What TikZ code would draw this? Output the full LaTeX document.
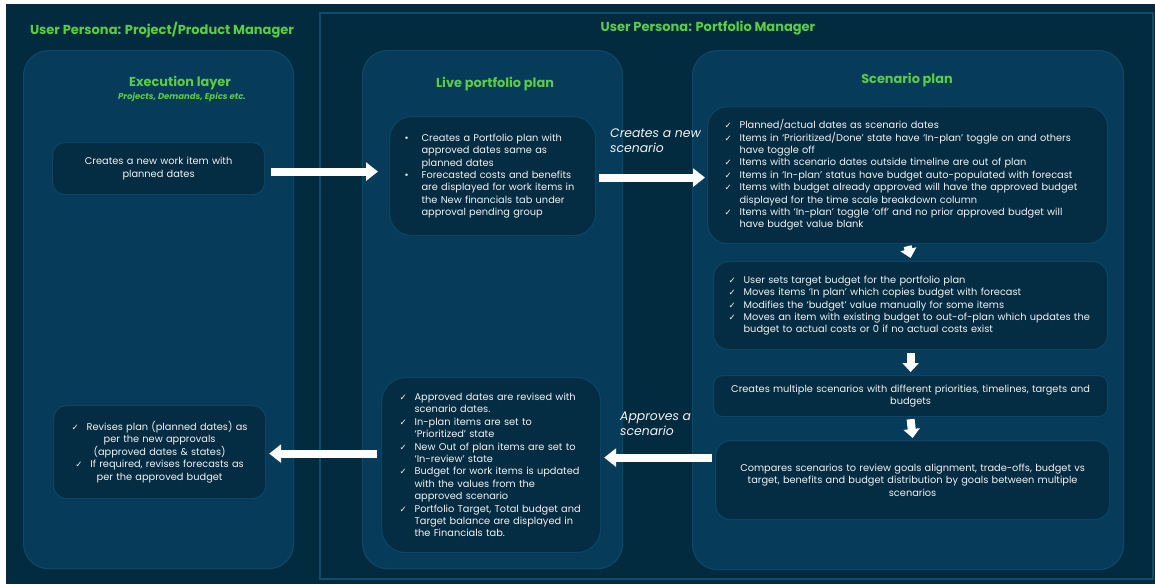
\documentclass[tikz,border=0pt]{standalone}
\usepackage{fontspec}
\setmainfont{Poppins}
\newfontfamily\symfont{DejaVu Sans}
\usetikzlibrary{arrows.meta,calc}
\definecolor{bgdark}{HTML}{032B40}
\definecolor{colfill}{HTML}{063B59}
\definecolor{coledge}{HTML}{0C4867}
\definecolor{boxfill}{HTML}{042C42}
\definecolor{boxedge}{HTML}{0B4464}
\definecolor{frameedge}{HTML}{0E4C6C}
\definecolor{titlegreen}{HTML}{5CCB45}
\definecolor{txt}{HTML}{F2F2F2}
\newcommand\ck{\makebox[15pt][l]{\symfont\fontsize{8.5}{9}\selectfont ✓}}
\newcommand\ind{\hspace*{15pt}}
\newcommand\bul{\makebox[17pt][l]{•}}
\newcommand\bind{\hspace*{17pt}}
\tikzset{
  col/.style={draw=coledge, fill=colfill, line width=1.2pt, rounded corners=25pt, anchor=north west, inner sep=0pt},
  ibox/.style={draw=boxedge, fill=boxfill, line width=1.2pt, anchor=north west, text=txt,
    font=\fontsize{9.8}{12.4}\selectfont},
  persona/.style={text=titlegreen, font=\bfseries\fontsize{13}{15}\selectfont},
  coltitle/.style={text=titlegreen, font=\bfseries\fontsize{12.9}{15}\selectfont},
  colsub/.style={text=titlegreen, font=\bfseries\itshape\fontsize{8.5}{9}\selectfont},
  lbl/.style={text=txt, font=\itshape\fontsize{12.4}{15}\selectfont, align=left, anchor=north west, inner sep=0pt},
  hbig/.style={draw=white, line width=8pt, -{Triangle[width=18pt,length=12pt]}},
  vbig/.style={draw=white, line width=8pt, -{Triangle[width=16pt,length=9pt]}},
}
\begin{document}
\begin{tikzpicture}[x=1pt,y=-1pt]
\fill[white] (0,0) rectangle (1155,584);
\fill[bgdark] (6,4) rectangle (1155,584);
\useasboundingbox (0,0) rectangle (1155,584);
\draw[frameedge, line width=2pt] (320,13) rectangle (1153,579);

\node[persona] (p1) at (162,30) {User Persona: Project/Product Manager};
\node[persona] (p2) at (708,28) {User Persona: Portfolio Manager};

% columns
\node[col, minimum width=270pt, minimum height=518pt] (cL) at (23,50) {};
\node[col, minimum width=260pt, minimum height=518pt] (cM) at (362,50) {};
\node[col, minimum width=431pt, minimum height=519pt] (cR) at (692,50) {};

\node[coltitle] (tL) at (180,83) {Execution layer};
\node[colsub] (sL) at (182,97) {Projects, Demands, Epics etc.};
\node[coltitle] (tM) at (495,84) {Live portfolio plan};
\node[coltitle] (tR) at (907,80) {Scenario plan};

% left boxes
\node[ibox, rounded corners=12pt, minimum width=212pt, minimum height=52pt, text width=200pt, inner xsep=6pt, align=center] (lA) at (52,142)
  {Creates a new work item with\\planned dates};
\node[ibox, rounded corners=13pt, minimum width=212pt, minimum height=93pt, text width=200pt, inner xsep=6pt, align=center] (lB) at (53,405)
  {\ck Revises plan (planned dates) as\\per the new approvals\\(approved dates \& states)\\\ck If required, revises forecasts as\\per the approved budget\\[4pt]};

% middle boxes
\node[ibox, rounded corners=22pt, minimum height=119pt, text width=176pt, inner xsep=15pt, align=left] (m1) at (389,116)
  {\bul Creates a Portfolio plan with\\\bind approved dates same as\\\bind planned dates\\
   \bul Forecasted costs and benefits\\\bind are displayed for work items in\\\bind the New financials tab under\\\bind approval pending group};
\node[ibox, rounded corners=24pt, minimum height=175pt, text width=183pt, inner xsep=18pt, align=left] (m2) at (381,377)
  {\ck Approved dates are revised with\\\ind scenario dates.\\
   \ck In-plan items are set to\\\ind ‘Prioritized’ state\\
   \ck New Out of plan items are set to\\\ind ‘In-review’ state\\
   \ck Budget for work items is updated\\\ind with the values from the\\\ind approved scenario\\
   \ck Portfolio Target, Total budget and\\\ind Target balance are displayed in\\\ind the Financials tab.\\[8pt]};

% right boxes
\node[ibox, rounded corners=20pt, minimum height=137pt, text width=366pt, inner xsep=17pt, align=left] (r1) at (707,106)
  {\ck Planned/actual dates as scenario dates\\
   \ck Items in ‘Prioritized/Done’ state have ‘In-plan’ toggle on and others\\\ind have toggle off\\
   \ck Items with scenario dates outside timeline are out of plan\\
   \ck Items in ‘In-plan’ status have budget auto-populated with forecast\\
   \ck Items with budget already approved will have the approved budget\\\ind displayed for the time scale breakdown column\\
   \ck Items with ‘In-plan’ toggle ‘off’ and no prior approved budget will\\\ind have budget value blank};
\node[ibox, rounded corners=15pt, minimum height=88pt, text width=364pt, inner xsep=15pt, align=left] (r2) at (713,261)
  {\ck User sets target budget for the portfolio plan\\
   \ck Moves items ‘In plan’ which copies budget with forecast\\
   \ck Modifies the ‘budget’ value manually for some items\\
   \ck Moves an item with existing budget to out-of-plan which updates the\\\ind budget to actual costs or 0 if no actual costs exist};
\node[ibox, rounded corners=9pt, minimum height=41pt, text width=380pt, inner xsep=7pt, align=center] (r3) at (713,375)
  {Creates multiple scenarios with different priorities, timelines, targets and\\budgets};
\node[ibox, rounded corners=15pt, minimum height=79pt, text width=380pt, inner xsep=7pt, align=center] (r4) at (715,440)
  {Compares scenarios to review goals alignment, trade-offs, budget vs\\target, benefits and budget distribution by goals between multiple\\scenarios};

% arrows
\draw[hbig] ($(lA.east)+(6,3)$) -- ($(m1.west)+(-11,-4.5)$);
\draw[hbig] ($(m1.east)+(3,1.5)$) -- ($(r1.west)+(-2,2.5)$);
\draw[vbig] ($(r1.south)+(0,2)$) -- ($(r2.north)+(0,-3)$);
\draw[vbig] ($(r2.south)+(0,3)$) -- ($(r3.north)+(0,-3)$);
\draw[vbig] ($(r3.south)+(0,2)$) -- ($(r4.north)+(0,-2)$);
\draw[hbig] ($(r4.west)+(-3,-22.5)$) -- ($(m2.east)+(3,-7.5)$);
\draw[hbig] ($(m2.west)+(-4,-11.5)$) -- ($(lB.east)+(3,1.5)$);

\node[lbl] (lab1) at (610,129) {Creates a new\\scenario};
\node[lbl] (lab2) at (620,412) {Approves a\\scenario};
\end{tikzpicture}
\end{document}
